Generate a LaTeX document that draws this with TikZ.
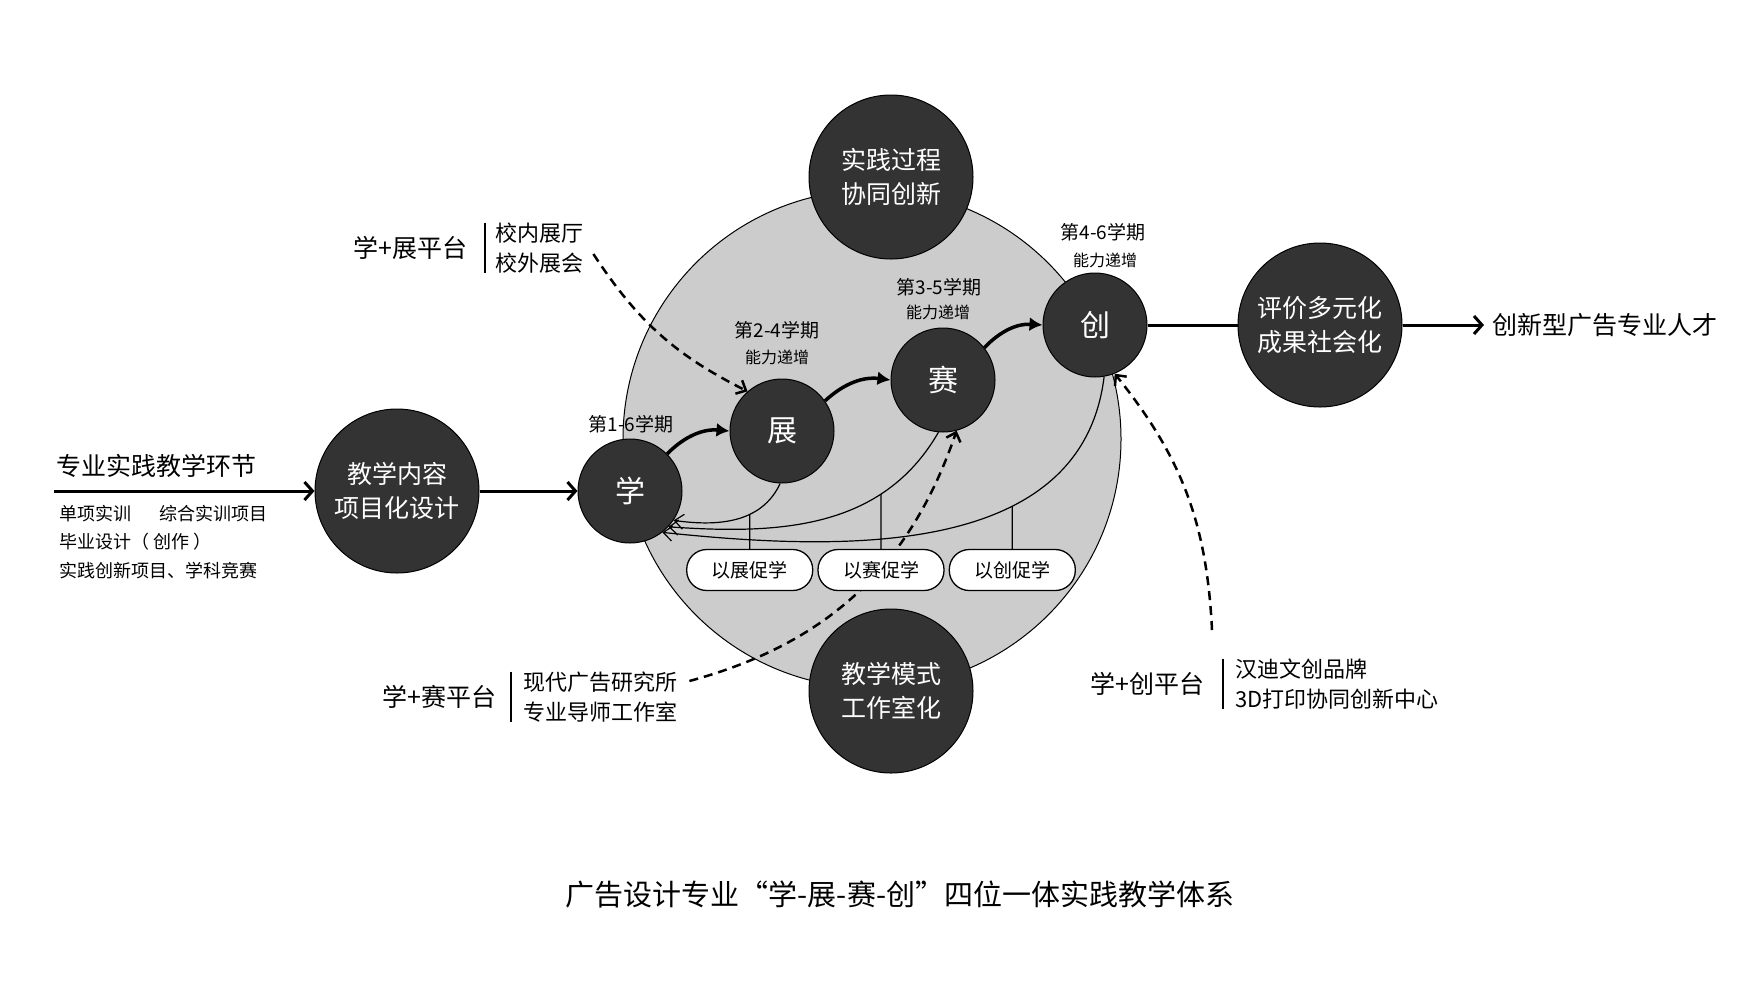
\documentclass[tikz,border=0pt]{standalone}
\usepackage{fontspec}
\setmainfont{Noto Sans CJK SC}
\usetikzlibrary{arrows.meta, positioning, intersections}
\definecolor{cdark}{HTML}{333333}
\definecolor{cgrey}{HTML}{CCCCCC}

\begin{document}
\begin{tikzpicture}[x=1pt, y=1pt, node distance=4pt]

\tikzstyle{hub} = [circle, draw=black, line width=1pt, fill=cdark, text=white, minimum size=164pt, inner sep=0pt, align=center, font=\fontsize{25}{34}\selectfont]
\tikzstyle{stage} = [circle, draw=black, line width=1pt, fill=cdark, text=white, minimum size=104pt, inner sep=0pt, font=\fontsize{30}{30}\selectfont]
\tikzstyle{pill} = [rectangle, rounded corners=20pt, draw=black, line width=1.3pt, fill=white, minimum width=126pt, minimum height=41pt, inner sep=0pt, font=\fontsize{19}{19}\selectfont]
\tikzstyle{flow} = [line width=3pt, -{Straight Barb[length=8pt, width=18pt]}]
\tikzstyle{uparrow} = [line width=3.5pt, -{Latex[length=13pt, width=14pt]}]
\tikzstyle{back} = [line width=1.2pt, -{Straight Barb[length=9pt, width=15pt]}]
\tikzstyle{hint} = [line width=2.5pt, dash pattern=on 9pt off 6pt, -{Straight Barb[length=8pt, width=15pt]}]
\tikzstyle{link} = [line width=1.2pt]
\tikzstyle{term} = [font=\fontsize{19}{19}\selectfont, inner sep=1pt]
\tikzstyle{ability} = [font=\fontsize{16}{16}\selectfont, inner sep=1pt]
\tikzstyle{plat} = [font=\fontsize{25}{25}\selectfont, inner sep=0pt]
\tikzstyle{res} = [align=left, font=\fontsize{22}{30}\selectfont, inner xsep=10pt, inner ysep=0pt]

\useasboundingbox (0,0) rectangle (1759,-986);
\fill[white] (0,0) rectangle (1759,-986);

% grey core
\filldraw[fill=cgrey, draw=black, line width=1pt] (872,-439) circle (249);

% big circles
\node[hub] (sjgc) at (891,-177) {实践过程\\协同创新};
\node[hub] (jxms) at (891,-691) {教学模式\\工作室化};
\node[hub] (jxnr) at (397,-491) {教学内容\\项目化设计};
\node[hub] (pj) at (1320,-325) {评价多元化\\成果社会化};

% stages
\node[stage] (xue) at (630,-491) {学};
\node[stage] (zhan) at (782,-431) {展};
\node[stage] (sai) at (943,-380) {赛};
\node[stage] (chuang) at (1095,-325) {创};

% input / output
\coordinate (src) at (54,-491);
\node[plat, anchor=west] (zyjx) at (56,-466) {专业实践教学环节};
\node[anchor=west, align=left, font=\fontsize{18}{28.5}\selectfont, inner sep=0pt] (items) at (59,-542) {单项实训\hspace{28pt}综合实训项目\\毕业设计（ 创作 ）\\实践创新项目、学科竞赛};
\node[plat, anchor=west, inner xsep=8pt] (rc) at (1484,-325) {创新型广告专业人才};

\draw[flow] (src) -- (jxnr.west);
\draw[flow] (jxnr.east) -- (xue.west);
\draw[line width=3pt] (chuang.east) -- (pj.west);
\draw[flow] (pj.east) -- (rc.west);

% semesters
\node[term] (t1) at (631,-424) {第1-6学期};
\node[term] (t2) at (777,-330) {第2-4学期};
\node[ability] (n2) at (777,-357) {能力递增};
\node[term] (t3) at (939,-287) {第3-5学期};
\node[ability] (n3) at (938,-312) {能力递增};
\node[term] (t4) at (1103,-232) {第4-6学期};
\node[ability] (n4) at (1105,-260) {能力递增};

\draw[uparrow] (xue.45) to[bend left=25] (zhan.west);
\draw[uparrow] (zhan.35) to[bend left=25] (sai.west);
\draw[uparrow] (sai.38) to[bend left=25] (chuang.west);

% feedback to xue
\draw[back, name path=ca] (zhan.-92) to[out=-115, in=-8] (xue.-34);
\draw[back, name path=cb] (sai.-95) to[out=-120, in=-4] (xue.-43);
\draw[back, name path=cc] (chuang.-80) to[out=-97, in=-6] (xue.-52);

% platforms
\node[res, anchor=west] (xzlist) at (485,-248) {校内展厅\\校外展会};
\draw[link] (xzlist.north west) -- (xzlist.south west);
\node[plat, left=17pt of xzlist] (xzpt) {学+展平台};

\node[res, anchor=west, inner xsep=12pt] (xslist) at (511,-697) {现代广告研究所\\专业导师工作室};
\draw[link] (xslist.north west) -- (xslist.south west);
\node[plat, left=14pt of xslist] (xspt) {学+赛平台};

\node[res, anchor=west, inner xsep=12pt] (xclist) at (1223,-684) {汉迪文创品牌\\3D打印协同创新中心};
\draw[link] (xclist.north west) -- (xclist.south west);
\node[plat, left=18pt of xclist] (xcpt) {学+创平台};
\coordinate (xcs) at (1212,-630);

\draw[hint] ([yshift=-6pt]xzlist.east) to[bend right=15] (zhan.131);
\draw[hint] ([yshift=16pt]xslist.east) to[bend right=28] (sai.-75);
\draw[hint] (xcs) to[bend right=18] (chuang.-68);

% pills
\node[pill] (p2) at (881,-570) {以赛促学};
\node[pill, left=of p2] (p1) {以展促学};
\node[pill, right=of p2] (p3) {以创促学};

\path[name path=va] (p1.north) -- ++(0,80);
\path[name path=vb] (p2.north) -- ++(0,80);
\path[name path=vc] (p3.north) -- ++(0,80);
\draw[link, name intersections={of=ca and va, name=ia}] (p1.north) -- (ia-1);
\draw[link, name intersections={of=cb and vb, name=ib}] (p2.north) -- (ib-1);
\draw[link, name intersections={of=cc and vc, name=ic}] (p3.north) -- (ic-1);

% title
\node[font=\fontsize{29}{29}\selectfont] (title) at (900,-894) {广告设计专业“学-展-赛-创”四位一体实践教学体系};

\end{tikzpicture}
\end{document}
